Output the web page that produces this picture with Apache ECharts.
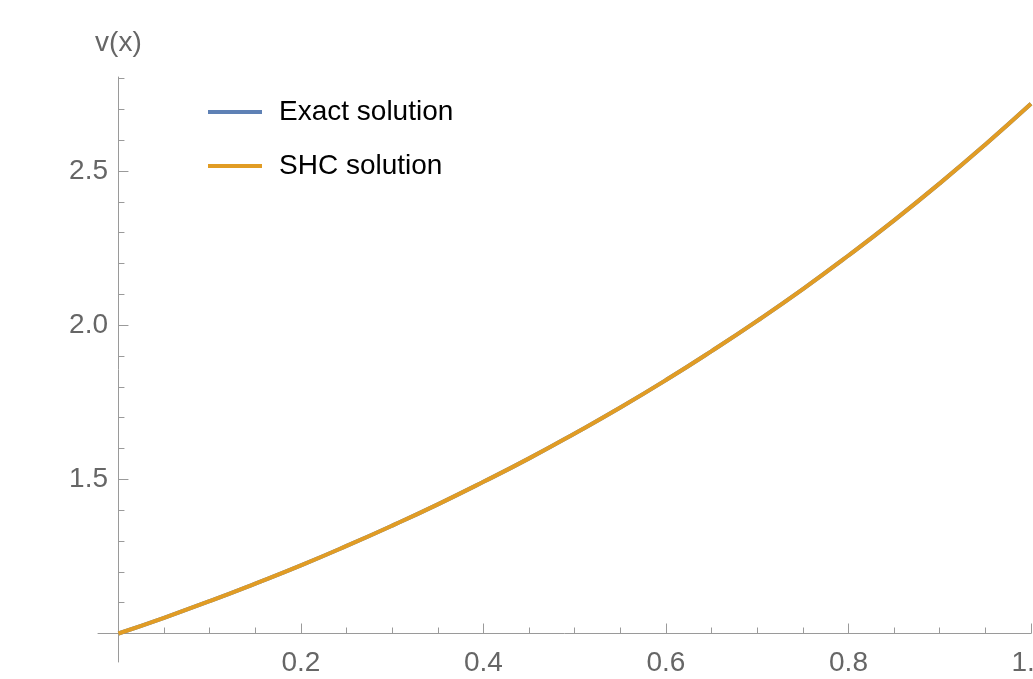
<!DOCTYPE html>
<html>
<head>
<meta charset="utf-8">
<title>v(x): Exact vs SHC solution</title>
<script src="https://cdn.jsdelivr.net/npm/echarts@6/dist/echarts.min.js"></script>
<style>
  html, body { margin: 0; padding: 0; background: #ffffff; }
  #chart { width: 1033px; height: 679px; }
</style>
</head>
<body>
<div id="chart"></div>
<script>
// Sample points along x in [0, 1]
const xValues = [0, 0.05, 0.1, 0.15, 0.2, 0.25, 0.3, 0.35, 0.4, 0.45, 0.5,
                 0.55, 0.6, 0.65, 0.7, 0.75, 0.8, 0.85, 0.9, 0.95, 1.0];
// Exact solution v(x)
const exactValues = [1.000, 1.051, 1.105, 1.162, 1.221, 1.284, 1.350, 1.419, 1.492, 1.568, 1.649,
                     1.733, 1.822, 1.916, 2.014, 2.117, 2.226, 2.340, 2.460, 2.586, 2.718];
// SHC approximation (overlaps the exact curve)
const shcValues = [1.000, 1.051, 1.105, 1.162, 1.221, 1.284, 1.350, 1.419, 1.492, 1.568, 1.649,
                   1.733, 1.822, 1.916, 2.014, 2.117, 2.226, 2.340, 2.460, 2.586, 2.718];

// Tick positions and labels
const xMajorTicks = [0.2, 0.4, 0.6, 0.8, 1.0];
const xMinorTicks = [0.05, 0.1, 0.15, 0.25, 0.3, 0.35, 0.45, 0.5, 0.55, 0.65, 0.7, 0.75, 0.85, 0.9, 0.95];
const yMajorTicks = [1.5, 2.0, 2.5];
const yMinorTicks = [1.1, 1.2, 1.3, 1.4, 1.6, 1.7, 1.8, 1.9, 2.1, 2.2, 2.3, 2.4, 2.6, 2.7, 2.8];
const seriesNames = ['Exact solution', 'SHC solution'];

// Plot range (axes extend a little past the origin)
const X_MIN = -0.0224, X_MAX = 1.0;
const Y_MIN = 0.9076, Y_MAX = 2.805;

const FONT = '"Liberation Sans", Arial, Helvetica, sans-serif';
const AXIS_COLOR = '#9a9a9a';
const LABEL_COLOR = '#666666';

const exactData = xValues.map((x, i) => [x, exactValues[i]]);
const shcData = xValues.map((x, i) => [x, shcValues[i]]);

function xAxisDef(ticks, len, withLabels, withLine) {
  return {
    type: 'value', min: X_MIN, max: X_MAX, position: 'bottom', offset: -28.5,
    axisLine: { show: withLine, lineStyle: { color: AXIS_COLOR, width: 1 } },
    axisTick: { show: true, inside: true, length: len, customValues: ticks,
                lineStyle: { color: AXIS_COLOR, width: 1 } },
    axisLabel: { show: withLabels, customValues: ticks, margin: 16,
                 color: LABEL_COLOR, fontSize: 28, fontFamily: FONT,
                 formatter: v => v.toFixed(1) },
    splitLine: { show: false }
  };
}
function yAxisDef(ticks, len, withLabels, withLine) {
  return {
    type: 'value', min: Y_MIN, max: Y_MAX, position: 'left', offset: -20,
    name: withLabels ? 'v(x)' : '', nameLocation: 'end', nameGap: 20,
    nameTextStyle: { color: LABEL_COLOR, fontSize: 28, fontFamily: FONT },
    axisLine: { show: withLine, lineStyle: { color: AXIS_COLOR, width: 1 } },
    axisTick: { show: true, inside: true, length: len, customValues: ticks,
                lineStyle: { color: AXIS_COLOR, width: 1 } },
    axisLabel: { show: withLabels, customValues: ticks, margin: 10,
                 color: LABEL_COLOR, fontSize: 28, fontFamily: FONT,
                 formatter: v => v.toFixed(1) },
    splitLine: { show: false }
  };
}

const chart = echarts.init(document.getElementById('chart'), null, { renderer: 'canvas' });
chart.setOption({
  animation: false,
  backgroundColor: '#ffffff',
  grid: { left: 98, right: 2, top: 77, bottom: 17, containLabel: false, outerBoundsMode: 'none' },
  legend: {
    orient: 'vertical', left: 208, top: 98, padding: 0,
    icon: 'rect', itemWidth: 54, itemHeight: 4, itemGap: 26,
    textStyle: { color: '#000000', fontSize: 28, fontFamily: FONT, padding: [0, 0, 0, 12] },
    data: seriesNames
  },
  xAxis: [ xAxisDef(xMajorTicks, 10, true, true), xAxisDef(xMinorTicks, 6, false, false) ],
  yAxis: [ yAxisDef(yMajorTicks, 10, true, true), yAxisDef(yMinorTicks, 6, false, false) ],
  series: [
    { name: seriesNames[0], type: 'line', data: exactData, smooth: true,
      showSymbol: false, symbol: 'none', color: '#5E81B5',
      lineStyle: { color: '#5E81B5', width: 4 } },
    { name: seriesNames[1], type: 'line', data: shcData, smooth: true,
      showSymbol: false, symbol: 'none', color: '#E19C24',
      lineStyle: { color: '#E19C24', width: 4 } }
  ]
});
</script>
</body>
</html>
